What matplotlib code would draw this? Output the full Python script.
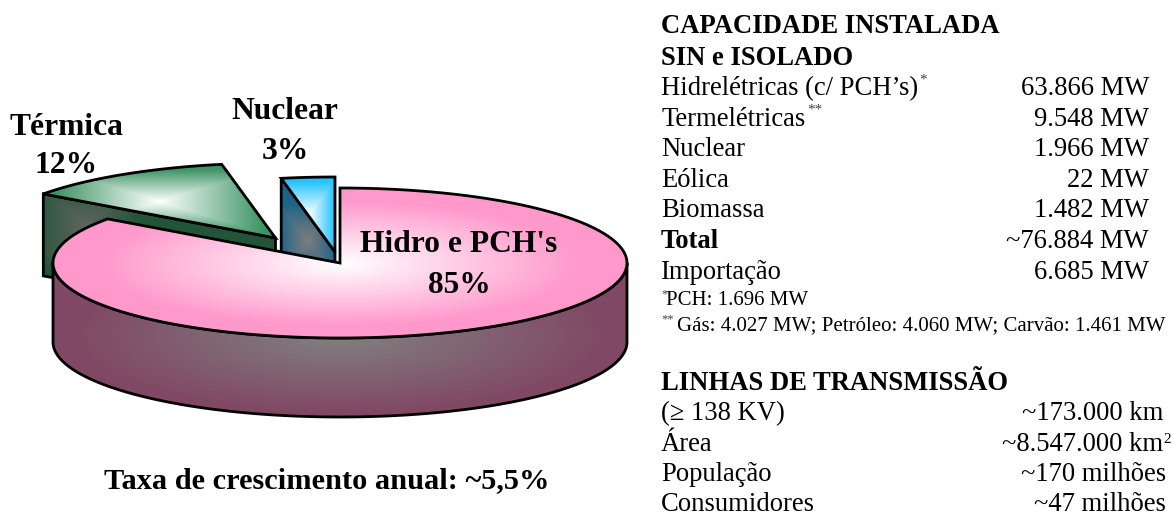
import numpy as np
import matplotlib
matplotlib.use("Agg")
import matplotlib.pyplot as plt
from matplotlib.patches import Polygon

plt.rcParams['font.family'] = ['Liberation Serif', 'DejaVu Serif']

# pie data
fontes = ["Hidro e PCH's", "Térmica", "Nuclear"]
partes = [85, 12, 3]
taxa = "Taxa de crescimento anual: ~5,5%"

# tables
titulo_cap = ["CAPACIDADE INSTALADA", "SIN e ISOLADO"]
nomes_cap = ["Hidrelétricas (c/ PCH’s)", "Termelétricas", "Nuclear", "Eólica", "Biomassa", "Total", "Importação"]
valores_cap = ["63.866 MW", "9.548 MW", "1.966 MW", "22 MW", "1.482 MW", "~76.884 MW", "6.685 MW"]
nota_pch = "PCH: 1.696 MW"
nota_gas = "Gás: 4.027 MW; Petróleo: 4.060 MW; Carvão: 1.461 MW"
titulo_lin = "LINHAS DE TRANSMISSÃO"
nomes_lin = ["(≥ 138 KV)", "Área", "População", "Consumidores"]
valores_lin = ["~173.000 km", "~8.547.000 km", "~170 milhões", "~47 milhões"]

fig = plt.figure(figsize=(11.74, 5.13), dpi=100)
ax = fig.add_axes([0, 0, 1, 1])
ax.axis('off')

RX, RY, PROF = 287, 75, 79
camada = [1]


def arco(cx, cy, t1, t2, dy=0):
    t = np.radians(np.linspace(t1, t2, 200))
    return np.column_stack([cx + RX * np.cos(t), cy + dy - RY * np.sin(t)])


def degrade(pts, c_centro, c_borda, centro, raio, forma='elipse'):
    # paint a gradient image clipped by the polygon, each shape over the last one
    pts = np.asarray(pts)
    x0, y0 = pts.min(axis=0) - 2
    x1, y1 = pts.max(axis=0) + 2
    xx, yy = np.meshgrid(np.arange(x0, x1, 1.0), np.arange(y0, y1, 1.0))
    dx = np.abs(xx - centro[0]) / raio[0]
    dy = np.abs(yy - centro[1]) / raio[1]
    if forma == 'elipse':
        r = np.sqrt(dx ** 2 + dy ** 2)
    else:
        r = np.maximum(dx, dy)
    r = np.clip(r, 0, 1)[..., None]
    img = (np.array(c_centro) * (1 - r) + np.array(c_borda) * r) / 255
    im = ax.imshow(img, extent=(x0, x1, y1, y0), aspect='auto', interpolation='bilinear',
                   zorder=camada[0])
    poly = Polygon(pts, closed=True, fc='none', ec='k', lw=2.0, joinstyle='miter',
                   zorder=camada[0] + 1)
    ax.add_patch(poly)
    im.set_clip_path(poly)
    camada[0] += 2


total = sum(partes)
ang_hidro = 90 - 360 * partes[0] / total        # goes clockwise from the top
ang_term = ang_hidro - 360 * partes[1] / total
ang_nuc = ang_term - 360 * partes[2] / total

cx, cy = 340, 263
ax_t, ay_t = 275.5, 238   # displaced thermal slice
ax_n, ay_n = 335, 252     # displaced nuclear slice

# thermal: wall then top
p_t = arco(ax_t, ay_t, ang_hidro + 360, ang_term + 360)
parede = [p_t[0], (ax_t, ay_t), (ax_t, ay_t + PROF), p_t[0] + [0, PROF + 3]]
degrade(parede, (95, 100, 95), (34, 84, 56), (85, 225), (55, 45), 'ret')
degrade(np.vstack([p_t, [(ax_t, ay_t)]]), (255, 255, 255), (60, 148, 100),
        ((p_t[:, 0].min() + ax_t) / 2, (p_t[:, 1].min() + ay_t) / 2), (105, 32), 'ret')

# nuclear: wall then top
p_n = arco(ax_n, ay_n, ang_term + 360, ang_nuc + 360)
parede = [p_n[0], (ax_n, ay_n), (ax_n, ay_n + PROF), p_n[0] + [0, PROF]]
degrade(parede, (125, 125, 125), (30, 100, 135), (307, 240), (28, 36), 'ret')
degrade(np.vstack([p_n, [(ax_n, ay_n)]]), (255, 255, 255), (35, 195, 255),
        ((p_n[:, 0].min() + ax_n) / 2, (p_n[:, 1].min() + ay_n) / 2), (26, 34), 'ret')

# hydro: wall then top
frente = arco(cx, cy, 180, 360)
parede = np.vstack([frente, arco(cx, cy, 360, 180, PROF)])
degrade(parede, (128, 128, 128), (128, 72, 100), (340, 335), (270, 78))
topo = np.vstack([[(cx, cy)], arco(cx, cy, 90, ang_hidro)])
degrade(topo, (255, 255, 255), (255, 153, 204), (cx, cy), (240, 62))

# pie labels
bold = dict(fontweight='bold', fontsize=22.7, ha='center', va='baseline', color='k', zorder=50)
ax.text(459, 252, fontes[0], **bold)
ax.text(459, 293, f"{partes[0]}%", **bold)
ax.text(66, 135, fontes[1], **bold)
ax.text(66, 173, f"{partes[1]}%", **bold)
ax.text(285, 119, fontes[2], **bold)
ax.text(285, 159, f"{partes[2]}%", **bold)
ax.text(327, 488, taxa, fontweight='bold', fontsize=21.9, ha='center', va='baseline')

# right side tables
XT, XV, XL = 661, 1149, 1163
normal = dict(fontsize=19.2, va='baseline', color='k')
ax.text(XT, 33, titulo_cap[0], fontweight='bold', **normal)
ax.text(XT, 65, titulo_cap[1], fontweight='bold', **normal)
y_cap = [95, 126, 156, 187, 217, 248, 279]
for nome, valor, y in zip(nomes_cap, valores_cap, y_cap):
    peso = 'bold' if nome == 'Total' else 'normal'
    ax.text(XT, y, nome, fontweight=peso, **normal)
    ax.text(XV, y, valor, ha='right', **normal)
ax.text(919, 84, "*", fontsize=11, va='baseline', color='#444444')
ax.text(807, 114, "**", fontsize=11, va='baseline', color='#444444')

# footnotes
ax.text(661, 297, "*", fontsize=9, va='baseline', color='#444444')
ax.text(666, 305, nota_pch, fontsize=15, va='baseline')
ax.text(661, 322, "**", fontsize=9, va='baseline', color='#444444')
ax.text(677, 330, nota_gas, fontsize=15, va='baseline')

ax.text(XT, 390, titulo_lin, fontweight='bold', **normal)
y_lin = [420, 451, 481, 511]
x_lin = [XL, XL, 1166, 1166]
for nome, valor, y, x in zip(nomes_lin, valores_lin, y_lin, x_lin):
    ax.text(XT, y, nome, **normal)
    ax.text(x, y, valor, ha='right', **normal)
ax.text(1163, 443, "2", fontsize=11, va='baseline')

ax.set_xlim(0, 1174)
ax.set_ylim(513, 0)
fig.savefig("out.png", dpi=100)
